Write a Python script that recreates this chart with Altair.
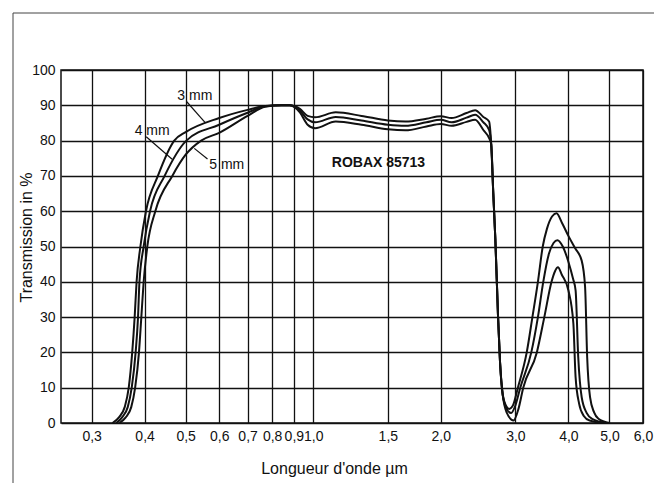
import altair as alt
import pandas as pd

# ---- curve data (wavelength in µm, transmission in %) ----
wl_3mm = [0.336, 0.348, 0.359, 0.367, 0.374, 0.379, 0.383, 0.391, 0.403, 0.430, 0.470, 0.50, 0.60, 0.70, 0.77, 0.84, 0.88,
          0.93, 0.97, 1.01, 1.13, 1.30, 1.50, 1.65, 1.85, 2.00, 2.12, 2.30, 2.41, 2.52, 2.60, 2.63,
          2.66, 2.69, 2.73, 2.76, 2.80, 2.86, 2.90, 2.96, 3.04, 3.19, 3.29, 3.39, 3.48, 3.56, 3.66, 3.75,
          3.87, 4.00, 4.15, 4.30, 4.38, 4.43, 4.50, 4.60, 4.71, 5.00]
tr_3mm = [0, 1.6, 4.5, 10, 20, 30, 40, 50, 60, 70, 80, 82.4, 86.4, 88.7, 89.8, 90, 90,
          89, 87, 86.6, 88, 87, 85.7, 85.4, 86.2, 86.9, 86.4, 87.8, 88.6, 86.7, 85.4, 79,
          65, 52, 30, 17, 8, 4.6, 4.0, 5, 10, 20, 30, 40, 50, 55, 58.5, 59.4,
          56.5, 53, 49.5, 46, 38.6, 18.7, 7.3, 3, 1.2, 0]

wl_4mm = [0.343, 0.354, 0.365, 0.373, 0.381, 0.386, 0.389, 0.398, 0.412, 0.446, 0.502, 0.60, 0.70, 0.77, 0.84, 0.88,
          0.93, 0.97, 1.01, 1.13, 1.30, 1.50, 1.65, 1.85, 2.00, 2.12, 2.30, 2.41, 2.52, 2.60, 2.63,
          2.66, 2.69, 2.73, 2.76, 2.80, 2.86, 2.93, 3.00, 3.08, 3.27, 3.39, 3.49, 3.60, 3.69, 3.77,
          3.88, 4.00, 4.10, 4.16, 4.22, 4.30, 4.42, 4.55, 4.93]
tr_4mm = [0, 1.6, 4.5, 10, 20, 30, 40, 50, 60, 70, 80, 84.5, 87.9, 89.7, 90, 90,
          88.5, 86, 85.2, 86.7, 85.7, 84.5, 84.2, 85.2, 85.9, 85.2, 86.5, 87.3, 85.2, 83, 79,
          65, 52, 30, 17, 8, 4.0, 2.8, 5, 10, 20, 30, 40, 48, 51, 51.8,
          50, 45.7, 41, 37.6, 18.7, 7.3, 2.8, 1.2, 0]

wl_5mm = [0.349, 0.361, 0.372, 0.380, 0.388, 0.393, 0.398, 0.406, 0.424, 0.465, 0.50, 0.544, 0.60, 0.70, 0.77, 0.84, 0.88,
          0.93, 0.97, 1.01, 1.13, 1.30, 1.50, 1.65, 1.85, 2.00, 2.12, 2.30, 2.41, 2.52, 2.60, 2.63,
          2.66, 2.69, 2.73, 2.76, 2.80, 2.86, 2.97, 3.05, 3.13, 3.37, 3.51, 3.65, 3.72, 3.78,
          3.86, 4.00, 4.11, 4.16, 4.24, 4.35, 4.49, 4.85]
tr_5mm = [0, 1.6, 4.5, 10, 20, 30, 40, 50, 60, 70, 76, 80, 82.2, 87.0, 89.6, 90, 90,
          88, 84.5, 83.5, 85.4, 84.5, 83.2, 82.9, 84, 84.7, 84.2, 85.3, 85.9, 83, 80.7, 79,
          65, 52, 30, 17, 8, 3.0, 0.7, 4, 10, 20, 30, 40, 43, 44.1,
          42, 37.6, 28.2, 13, 5.5, 2, 0.7, 0]

series_names = ["3 mm", "4 mm", "5 mm"]

# ---- annotations ----
label_text = ["3 mm", "4 mm", "5 mm"]
label_wl = [0.478, 0.379, 0.5685]
label_tr = [91.5, 81.6, 71.9]

leader_wl1 = [0.503, 0.4036, 0.563]
leader_tr1 = [91.0, 81.1, 74.8]
leader_wl2 = [0.556, 0.4646, 0.524]
leader_tr2 = [85.1, 74.7, 77.8]

product_text = ["ROBAX 85713"]
product_wl = [1.106]
product_tr = [72.4]

x_ticks = [0.3, 0.4, 0.5, 0.6, 0.7, 0.8, 0.9, 1.0, 1.5, 2.0, 3.0, 4.0, 5.0, 6.0]
y_ticks = [0, 10, 20, 30, 40, 50, 60, 70, 80, 90, 100]

rows = []
for name, wl, tr in zip(series_names, [wl_3mm, wl_4mm, wl_5mm], [tr_3mm, tr_4mm, tr_5mm]):
    for i, (w, t) in enumerate(zip(wl, tr)):
        rows.append({"series": name, "wl": w, "tr": t, "order": i})
df = pd.DataFrame(rows)

labels_df = pd.DataFrame({"text": label_text, "wl": label_wl, "tr": label_tr})
leader_df = pd.DataFrame({"wl": leader_wl1, "tr": leader_tr1, "wl2": leader_wl2, "tr2": leader_tr2})
product_df = pd.DataFrame({"text": product_text, "wl": product_wl, "tr": product_tr})

FONT = "Liberation Sans"
INK = "#111111"

x_scale = alt.Scale(type="log", domain=[0.254, 6.0], nice=False)
y_scale = alt.Scale(domain=[0, 100], nice=False, zero=False)

x_axis = alt.Axis(
    values=x_ticks,
    labelExpr="replace(format(datum.value, '.1f'), '.', ',')",
    title="Longueur d'onde µm",
    grid=True, gridColor=INK, gridWidth=1.3, gridOpacity=1,
    domain=False, ticks=False,
    labelFont=FONT, labelFontSize=14, labelColor=INK, labelPadding=6,
    labelFlush=False, labelOverlap=False,
    titleFont=FONT, titleFontSize=16, titleFontWeight="normal", titleColor=INK,
    titleX=273, titleY=50, titleAlign="center", titleBaseline="alphabetic",
)
y_axis = alt.Axis(
    values=y_ticks,
    title="Transmission in %",
    grid=True, gridColor=INK, gridWidth=1.3, gridOpacity=1,
    domain=False, ticks=False,
    labelFont=FONT, labelFontSize=14, labelColor=INK, labelPadding=6,
    labelOverlap=False, labelFlush=False,
    titleFont=FONT, titleFontSize=16, titleFontWeight="normal", titleColor=INK,
    titleAngle=270, titleX=-30, titleY=167, titleAlign="center", titleBaseline="alphabetic",
)

X = alt.X("wl:Q", scale=x_scale, axis=x_axis)
Y = alt.Y("tr:Q", scale=y_scale, axis=y_axis)

lines = alt.Chart(df).mark_line(color=INK, strokeWidth=2, interpolate="monotone").encode(
    x=X, y=Y,
    detail="series:N",
    order="order:Q",
)

leaders = alt.Chart(leader_df).mark_rule(color=INK, strokeWidth=1.2).encode(
    x=X, y=Y,
    x2="wl2:Q",
    y2="tr2:Q",
)

labels = alt.Chart(labels_df).mark_text(
    align="left", baseline="alphabetic", font=FONT, fontSize=14, color=INK
).encode(
    x=X, y=Y,
    text="text:N",
)

product = alt.Chart(product_df).mark_text(
    align="left", baseline="alphabetic", font=FONT, fontSize=14, fontWeight="bold", color=INK
).encode(
    x=X, y=Y,
    text="text:N",
)

# outer page frame (scan border)
frame_top = alt.Chart(pd.DataFrame({"k": [0]})).mark_rule(color="#444444", strokeWidth=1).encode(
    x=alt.value(-48), x2=alt.value(593), y=alt.value(-57)
)
frame_left = alt.Chart(pd.DataFrame({"k": [0]})).mark_rule(color="#444444", strokeWidth=1).encode(
    x=alt.value(-48), y=alt.value(-57), y2=alt.value(413)
)

chart = alt.layer(lines, leaders, labels, product, frame_top, frame_left).properties(
    width=582,
    height=353,
    autosize=alt.AutoSizeParams(type="none"),
    padding={"left": 53, "top": 62, "right": 11, "bottom": 60},
    background="white",
).configure_view(
    stroke=INK, strokeWidth=1.5
)

chart.save("out.html", embed_options={"renderer": "svg", "actions": False})
